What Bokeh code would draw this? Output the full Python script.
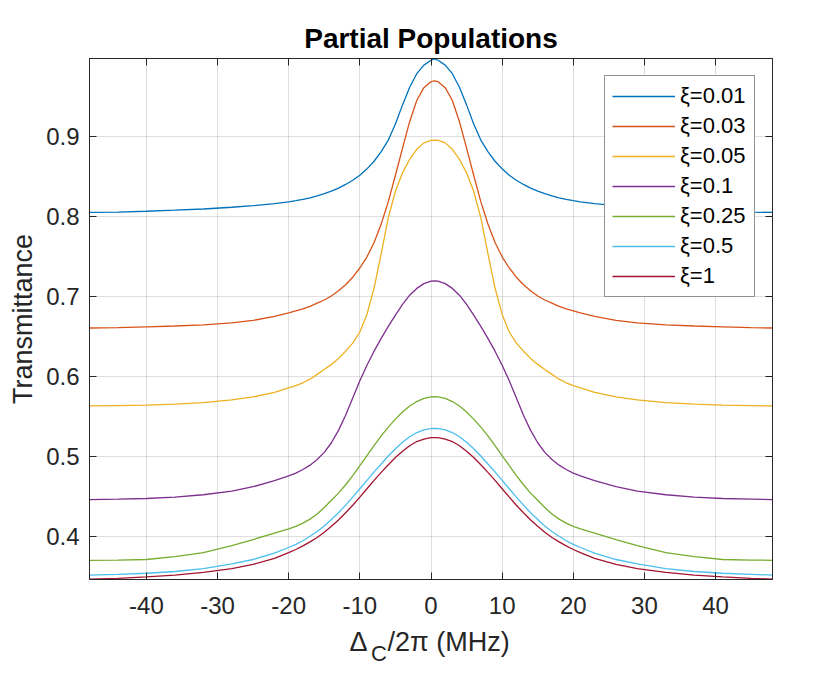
from bokeh.plotting import figure
from bokeh.layouts import column
from bokeh.models import Range1d, FixedTicker, LinearAxis, Legend, LegendItem
from bokeh.core.properties import value
from bokeh.embed import file_html
from bokeh.resources import INLINE

# detuning axis (MHz)
detuning = [-48, -44, -40, -36, -32, -28, -25, -22, -20, -19, -18, -17, -16, -15, -14, -13, -12, -11, -10,
            -9, -8, -7, -6, -5, -4, -3, -2, -1, 0,
            0.5,
            1, 2, 3, 4, 5, 6, 7, 8, 9, 10, 11, 12, 13, 14, 15, 16, 17, 18, 19, 20, 21,
            23, 26, 29, 33, 37, 41, 45, 48]

xi_labels = ["\u03be=0.01", "\u03be=0.03", "\u03be=0.05", "\u03be=0.1", "\u03be=0.25", "\u03be=0.5", "\u03be=1"]
colors = ["#0072BD", "#D95319", "#EDB120", "#7E2F8E", "#77AC30", "#4DBEEE", "#A2142F"]

t_001 = [0.8055, 0.806, 0.807, 0.8083, 0.8098, 0.812, 0.814, 0.8165, 0.8188, 0.8202, 0.8218, 0.8238, 0.8262, 0.829,
         0.8322, 0.836, 0.8405, 0.8458, 0.852, 0.860, 0.8695, 0.8815, 0.896, 0.916, 0.940, 0.962, 0.979, 0.9897, 0.9958,
         0.9975,
         0.9958, 0.9897, 0.979, 0.962, 0.940, 0.916, 0.896, 0.8815, 0.8695, 0.860, 0.852, 0.8458, 0.8405, 0.836,
         0.8322, 0.829, 0.8262, 0.8238, 0.8218, 0.8202, 0.8188, 0.8165, 0.814, 0.812, 0.8098, 0.8083, 0.807, 0.806, 0.8055]
t_003 = [0.661, 0.6615, 0.6625, 0.6635, 0.665, 0.6675, 0.6705, 0.6755, 0.680, 0.6825, 0.685, 0.688, 0.692, 0.696, 0.701,
         0.7075, 0.715, 0.7245, 0.736, 0.750, 0.768, 0.791, 0.819, 0.852, 0.886, 0.919, 0.9455, 0.9615, 0.969,
         0.970,
         0.969, 0.9615, 0.9455, 0.919, 0.886, 0.852, 0.819, 0.791, 0.768, 0.750, 0.736, 0.7245, 0.715, 0.7075,
         0.701, 0.696, 0.692, 0.688, 0.685, 0.6825, 0.680, 0.6755, 0.6705, 0.6675, 0.665, 0.6635, 0.6625, 0.6615, 0.661]
t_005 = [0.5635, 0.564, 0.5646, 0.5658, 0.5678, 0.571, 0.5748, 0.5805, 0.586, 0.589, 0.5925, 0.597, 0.603, 0.609, 0.6155,
         0.623, 0.632, 0.642, 0.656, 0.678, 0.711, 0.754, 0.799, 0.832, 0.855, 0.872, 0.8845, 0.8925, 0.8955,
         0.896,
         0.8955, 0.8925, 0.8845, 0.872, 0.855, 0.832, 0.799, 0.754, 0.711, 0.678, 0.656, 0.642, 0.632, 0.623,
         0.6155, 0.609, 0.603, 0.597, 0.5925, 0.589, 0.586, 0.5805, 0.5748, 0.571, 0.5678, 0.5658, 0.5646, 0.564, 0.5635]
t_01 = [0.4465, 0.447, 0.4478, 0.4495, 0.4525, 0.457, 0.4625, 0.470, 0.476, 0.4795, 0.484, 0.4895, 0.4965, 0.5055, 0.5175,
        0.533, 0.552, 0.5735, 0.595, 0.6145, 0.632, 0.648, 0.663, 0.677, 0.6905, 0.702, 0.7105, 0.7165, 0.7195,
        0.720,
        0.7195, 0.7165, 0.7105, 0.702, 0.6905, 0.677, 0.663, 0.648, 0.632, 0.6145, 0.595, 0.5735, 0.552, 0.533,
        0.5175, 0.5055, 0.4965, 0.4895, 0.484, 0.4795, 0.476, 0.470, 0.4625, 0.457, 0.4525, 0.4495, 0.4478, 0.447, 0.4465]
t_025 = [0.3705, 0.3708, 0.3715, 0.375, 0.380, 0.389, 0.3965, 0.4045, 0.4098, 0.413, 0.417, 0.422, 0.4285, 0.4365, 0.4455,
         0.4545, 0.465, 0.4765, 0.489, 0.5015, 0.514, 0.526, 0.537, 0.547, 0.556, 0.5634, 0.569, 0.5729, 0.5748,
         0.575,
         0.5748, 0.5729, 0.569, 0.5634, 0.556, 0.547, 0.537, 0.526, 0.514, 0.5015, 0.489, 0.4765, 0.465, 0.4545,
         0.4455, 0.4365, 0.4285, 0.422, 0.417, 0.413, 0.4098, 0.4045, 0.3965, 0.389, 0.380, 0.375, 0.3715, 0.3708, 0.3705]
t_05 = [0.352, 0.353, 0.3543, 0.3565, 0.3602, 0.366, 0.3715, 0.3795, 0.3865, 0.3905, 0.395, 0.4005, 0.4065, 0.4135, 0.4215,
        0.430, 0.4395, 0.4495, 0.460, 0.4705, 0.481, 0.491, 0.501, 0.510, 0.518, 0.525, 0.5303, 0.5335, 0.5353,
        0.5355,
        0.5353, 0.5335, 0.5303, 0.525, 0.518, 0.510, 0.501, 0.491, 0.481, 0.4705, 0.460, 0.4495, 0.4395, 0.430,
        0.4215, 0.4135, 0.4065, 0.4005, 0.395, 0.3905, 0.3865, 0.3795, 0.3715, 0.366, 0.3602, 0.3565, 0.3543, 0.353, 0.352]
t_1 = [0.347, 0.348, 0.3498, 0.352, 0.3553, 0.3602, 0.3655, 0.373, 0.380, 0.384, 0.3885, 0.3935, 0.399, 0.4055, 0.413,
       0.421, 0.430, 0.4393, 0.4495, 0.460, 0.4705, 0.4805, 0.490, 0.499, 0.507, 0.5138, 0.519, 0.522, 0.5238,
       0.524,
       0.5238, 0.522, 0.519, 0.5138, 0.507, 0.499, 0.490, 0.4805, 0.4705, 0.460, 0.4495, 0.4393, 0.430, 0.421,
       0.413, 0.4055, 0.399, 0.3935, 0.3885, 0.384, 0.380, 0.373, 0.3655, 0.3602, 0.3553, 0.352, 0.3498, 0.348, 0.347]

series = [t_001, t_003, t_005, t_01, t_025, t_05, t_1]

x_ticks = [-40, -30, -20, -10, 0, 10, 20, 30, 40]
x_tick_labels = ["-40", "-30", "-20", "-10", "0", "10", "20", "30", "40"]
y_ticks = [0.4, 0.5, 0.6, 0.7, 0.8, 0.9]
y_tick_labels = ["0.4", "0.5", "0.6", "0.7", "0.8", "0.9"]

FONT = "Liberation Sans"
AX = "#262626"
W = 826

p = figure(width=W, height=620, output_backend="svg", toolbar_location=None,
           x_range=Range1d(-48, 48), y_range=Range1d(0.3465, 0.998),
           min_border_left=89, min_border_right=54, min_border_top=58, min_border_bottom=41,
           background_fill_color="white", border_fill_color="white")

p.outline_line_color = AX
p.outline_line_width = 1

renderers = []
for ys, c in zip(series, colors):
    renderers.append(p.line(detuning, ys, line_color=c, line_width=1.3))

for ax in (p.xaxis[0], p.yaxis[0]):
    ax.major_tick_in = 7
    ax.major_tick_out = 0
    ax.minor_tick_in = 0
    ax.minor_tick_out = 0
    ax.axis_line_color = AX
    ax.major_tick_line_color = AX
    ax.major_label_text_font = FONT
    ax.major_label_text_font_size = "24px"
    ax.major_label_text_color = AX
p.xaxis[0].ticker = FixedTicker(ticks=x_ticks)
p.xaxis[0].major_label_overrides = dict(zip(x_ticks, x_tick_labels))
p.yaxis[0].ticker = FixedTicker(ticks=y_ticks)
p.yaxis[0].major_label_overrides = dict(zip(y_ticks, y_tick_labels))
p.xaxis[0].major_label_standoff = 17
p.yaxis[0].major_label_standoff = 10

p.yaxis[0].axis_label = "Transmittance"
p.yaxis[0].axis_label_text_font = FONT
p.yaxis[0].axis_label_text_font_size = "27px"
p.yaxis[0].axis_label_text_font_style = "normal"
p.yaxis[0].axis_label_text_color = AX
p.yaxis[0].axis_label_standoff = 5

top_ax = LinearAxis(ticker=FixedTicker(ticks=x_ticks), major_label_text_font_size="1px",
                    major_label_text_color=None,
                    major_tick_in=7, major_tick_out=0, minor_tick_in=0, minor_tick_out=0,
                    axis_line_color=AX, major_tick_line_color=AX, major_label_standoff=0)
right_ax = LinearAxis(ticker=FixedTicker(ticks=y_ticks), major_label_text_font_size="1px",
                      major_label_text_color=None,
                      major_tick_in=7, major_tick_out=0, minor_tick_in=0, minor_tick_out=0,
                      axis_line_color=AX, major_tick_line_color=AX, major_label_standoff=0)
p.add_layout(top_ax, "above")
p.add_layout(right_ax, "right")

p.xgrid.ticker = FixedTicker(ticks=x_ticks)
p.ygrid.ticker = FixedTicker(ticks=y_ticks)
p.grid.grid_line_color = AX
p.grid.grid_line_alpha = 0.15
p.grid.grid_line_width = 1

p.title.text = "Partial Populations"
p.title.align = "center"
p.title.text_font = FONT
p.title.text_font_size = "28px"
p.title.text_font_style = "bold"
p.title.text_color = "#000000"
p.title.standoff = 9

legend = Legend(items=[LegendItem(label=l, renderers=[r]) for l, r in zip(xi_labels, renderers)],
                location="top_right", margin=17, padding=7, spacing=4,
                glyph_width=63, glyph_height=26, label_height=26, label_width=67, label_standoff=5,
                label_text_font=FONT, label_text_font_size="22px", label_text_color="#000000",
                border_line_color=AX, border_line_width=1,
                background_fill_color="white", background_fill_alpha=1.0)
p.add_layout(legend)

# x-axis title strip (Delta with subscript C); same horizontal frame as the main plot
xl = figure(width=W, height=56, output_backend="svg", toolbar_location=None,
            x_axis_type=None, y_axis_type=None,
            x_range=Range1d(-48, 48), y_range=Range1d(0, 56),
            min_border_left=89, min_border_right=54, min_border_top=0, min_border_bottom=0,
            background_fill_color="white", border_fill_color="white")
xl.title = None
xl.grid.visible = False
xl.outline_line_color = None
xl.text(x=[-11.46], y=[34.3], text=["\u0394"], text_font=value(FONT), text_font_size="27px",
        text_align="left", text_baseline="alphabetic", text_color=AX)
xl.text(x=[-8.45], y=[22.7], text=["C"], text_font=value(FONT), text_font_size="22px",
        text_align="left", text_baseline="alphabetic", text_color=AX)
xl.text(x=[-6.11], y=[34.3], text=["/2\u03c0 (MHz)"], text_font=value(FONT), text_font_size="27px",
        text_align="left", text_baseline="alphabetic", text_color=AX)

layout = column(p, xl, spacing=0)
open("out.html", "w").write(file_html(layout, INLINE))
